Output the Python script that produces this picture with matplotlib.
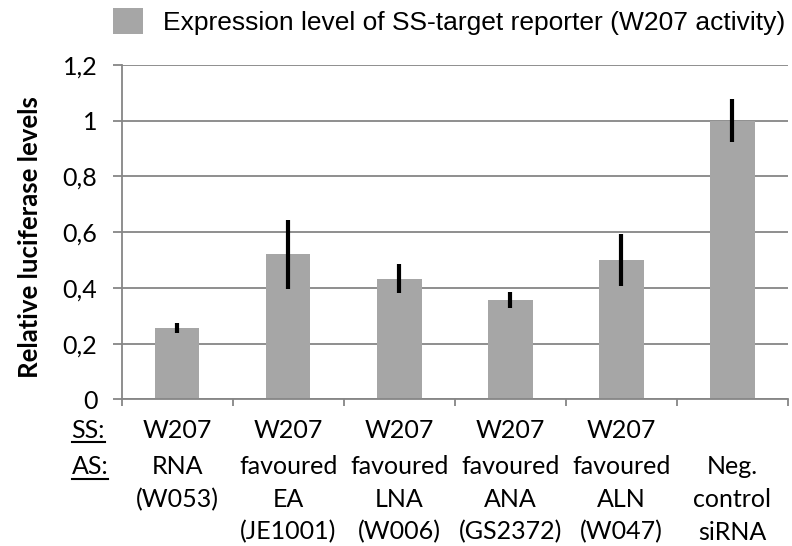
import matplotlib.pyplot as plt
from matplotlib.lines import Line2D
from matplotlib.ticker import FuncFormatter

# values
ss_labels = ['W207', 'W207', 'W207', 'W207', 'W207', '']
as_labels = ['RNA\n(W053)', 'favoured\nEA\n(JE1001)', 'favoured\nLNA\n(W006)',
             'favoured\nANA\n(GS2372)', 'favoured\nALN\n(W047)', 'Neg.\ncontrol\nsiRNA']
levels = [0.257, 0.521, 0.433, 0.355, 0.50, 1.0]
errors = [0.018, 0.124, 0.052, 0.029, 0.093, 0.077]
legend_label = 'Expression level of SS-target reporter (W207 activity)'

GRID = '#868686'
BAR = '#A6A6A6'
TICKFONT = 'Lato'
FS = 18
W, H = 792, 546

fig = plt.figure(figsize=(W / 100, H / 100), dpi=100)
ax = fig.add_axes([121.7 / W, 1 - 399.3 / H, (788 - 121.7) / W, (399.3 - 65) / H])

x = list(range(len(levels)))
bars = ax.bar(x, levels, width=0.4, color=BAR, label=legend_label, zorder=2)
ax.errorbar(x, levels, yerr=errors, fmt='none', ecolor='black', elinewidth=3,
            capsize=0, zorder=3)

ax.set_xlim(-0.5, len(levels) - 0.5)
ax.set_ylim(0, 1.2)
ax.set_yticks([0, 0.2, 0.4, 0.6, 0.8, 1.0, 1.2])
ax.yaxis.set_major_formatter(FuncFormatter(lambda v, p: ('%g' % round(v, 1)).replace('.', ',')))
ax.yaxis.grid(True, color=GRID, linewidth=1.3, zorder=0)
ax.set_axisbelow(True)
for s in ['top', 'right']:
    ax.spines[s].set_visible(False)
for s in ['left', 'bottom']:
    ax.spines[s].set_color(GRID)
    ax.spines[s].set_linewidth(1.3)
ax.tick_params(axis='y', length=6.5, width=1.3, color=GRID, labelsize=FS, pad=11)
ax.set_xticks([i - 0.5 for i in range(len(levels) + 1)])
ax.set_xticklabels([])
ax.tick_params(axis='x', length=5, width=1.3, color=GRID, direction='out')
for lab in ax.get_yticklabels():
    lab.set_family(TICKFONT)

ax.set_ylabel('Relative luciferase levels', fontsize=18.5, fontweight='bold',
              family=TICKFONT)
ax.yaxis.set_label_coords(42 / W, 1 - 237 / H, transform=fig.transFigure)

# category labels under the axis, one line at a time
for i in x:
    xf = (121.7 + (i + 0.5) * 111.05) / W
    fig.text(xf, 1 - 430 / H, ss_labels[i], ha='center', va='center', fontsize=FS, family=TICKFONT)
    for j, line in enumerate(as_labels[i].split('\n')):
        fig.text(xf, 1 - (467 + j * 32.5) / H, line, ha='center', va='center',
                 fontsize=FS, family=TICKFONT)

fig.text(88 / W, 1 - 430 / H, 'SS:', ha='center', va='center', fontsize=FS, family=TICKFONT)
fig.text(90 / W, 1 - 467 / H, 'AS:', ha='center', va='center', fontsize=FS, family=TICKFONT)
fig.add_artist(Line2D([72 / W, 105 / W], [1 - 442 / H] * 2, color='black', linewidth=1.5))
fig.add_artist(Line2D([72 / W, 108 / W], [1 - 479 / H] * 2, color='black', linewidth=1.5))

fig.legend(handles=[bars], labels=[legend_label], loc='upper left',
           bbox_to_anchor=(113 / W, 1 - 8 / H), frameon=False,
           borderpad=0, borderaxespad=0,
           prop={'family': 'Liberation Sans', 'size': 19},
           handlelength=1.15, handleheight=1.15, handletextpad=0.75)

fig.savefig('out.png', dpi=100)
